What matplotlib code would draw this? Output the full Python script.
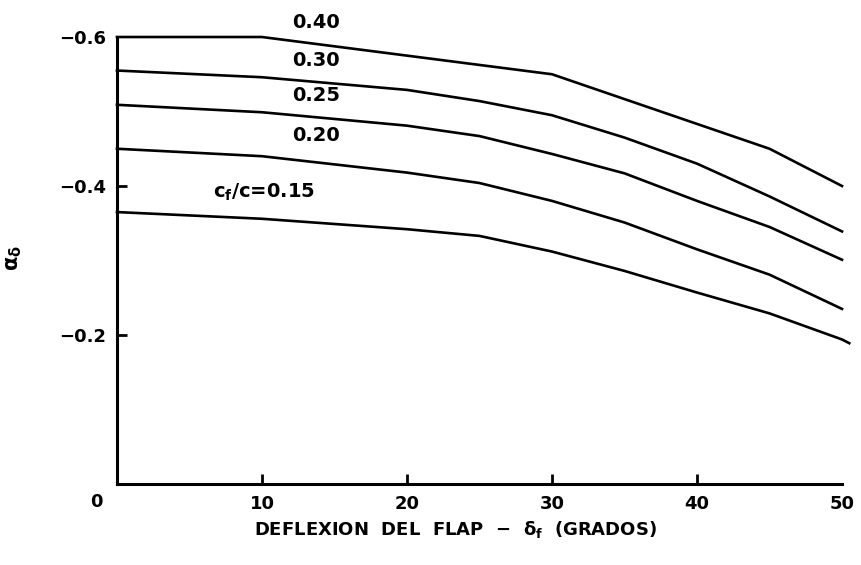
import matplotlib
matplotlib.use("Agg")
import matplotlib.pyplot as plt

plt.rcParams['font.family'] = ['DejaVu Sans']
plt.rcParams['font.weight'] = 'bold'
plt.rcParams['mathtext.fontset'] = 'dejavusans'
plt.rcParams['mathtext.default'] = 'bf'

# Flap deflection (degrees)
deflection = [0, 10, 20, 25, 30, 35, 40, 45, 50]

# alpha_delta curves for each flap-chord ratio
alpha_015 = [-0.365, -0.356, -0.342, -0.333, -0.312, -0.286, -0.257, -0.229, -0.194]
alpha_020 = [-0.450, -0.440, -0.418, -0.404, -0.380, -0.351, -0.315, -0.281, -0.235]
alpha_025 = [-0.509, -0.499, -0.481, -0.467, -0.443, -0.417, -0.380, -0.345, -0.301]
alpha_030 = [-0.555, -0.546, -0.529, -0.514, -0.495, -0.465, -0.430, -0.386, -0.339]
deflection_040 = [0, 10, 30, 45, 50]
alpha_040 = [-0.600, -0.600, -0.550, -0.450, -0.400]

curve_labels = ['0.40', '0.30', '0.25', '0.20']
curve_label_y = [-0.619, -0.569, -0.522, -0.468]

x_ticks = [10, 20, 30, 40, 50]
y_ticks = [-0.6, -0.4, -0.2]
y_tick_labels = ['\u22120.6', '\u22120.4', '\u22120.2']

fig = plt.figure(figsize=(8.62, 5.65), dpi=100)
ax = fig.add_axes([0.1357, 0.1434, 0.9768 - 0.1357, 0.9345 - 0.1434])

line_kw = dict(color='black', lw=1.9, solid_joinstyle='miter', clip_on=False)
ax.plot(deflection_040, alpha_040, **line_kw)
ax.plot(deflection, alpha_030, **line_kw)
ax.plot(deflection, alpha_025, **line_kw)
ax.plot(deflection, alpha_020, **line_kw)
ax.plot(deflection + [50.5], alpha_015 + [-0.189], **line_kw)

ax.set_xlim(0, 50)
ax.set_ylim(0, -0.6)

for side in ('top', 'right'):
    ax.spines[side].set_visible(False)
for side in ('left', 'bottom'):
    ax.spines[side].set_linewidth(2.2)

ax.set_xticks(x_ticks)
ax.set_xticklabels([str(v) for v in x_ticks])
ax.set_yticks(y_ticks)
ax.set_yticklabels(y_tick_labels)
ax.tick_params(axis='both', direction='in', length=7, width=2.0, labelsize=13)
ax.tick_params(axis='x', pad=8)
ax.tick_params(axis='y', pad=8)
ax.xaxis.get_major_ticks()[-1].tick1line.set_visible(False)
ax.yaxis.get_major_ticks()[0].tick1line.set_visible(False)

# origin label
ax.annotate('0', xy=(0, 0), xytext=(-21, -9), textcoords='offset pixels',
            ha='center', va='top', fontsize=13, annotation_clip=False)

# curve labels
for lab, yv in zip(curve_labels, curve_label_y):
    ax.text(13.72, yv, lab, ha='center', va='center', fontsize=14, clip_on=False)
ax.text(6.6, -0.391, r'c$_{f}$/c=0.15', ha='left', va='center', fontsize=14)

fig.text(0.528, 0.0637,
         'DEFLEXION  DEL  FLAP  \u2212  ' + r'$\delta_{f}$' + '  (GRADOS)',
         ha='center', va='center', fontsize=13)
fig.text(0.016, 1 - 258 / 565, r'$\alpha_{\delta}$', rotation=90,
         ha='center', va='center', fontsize=15)

fig.savefig('out.png', dpi=100)
